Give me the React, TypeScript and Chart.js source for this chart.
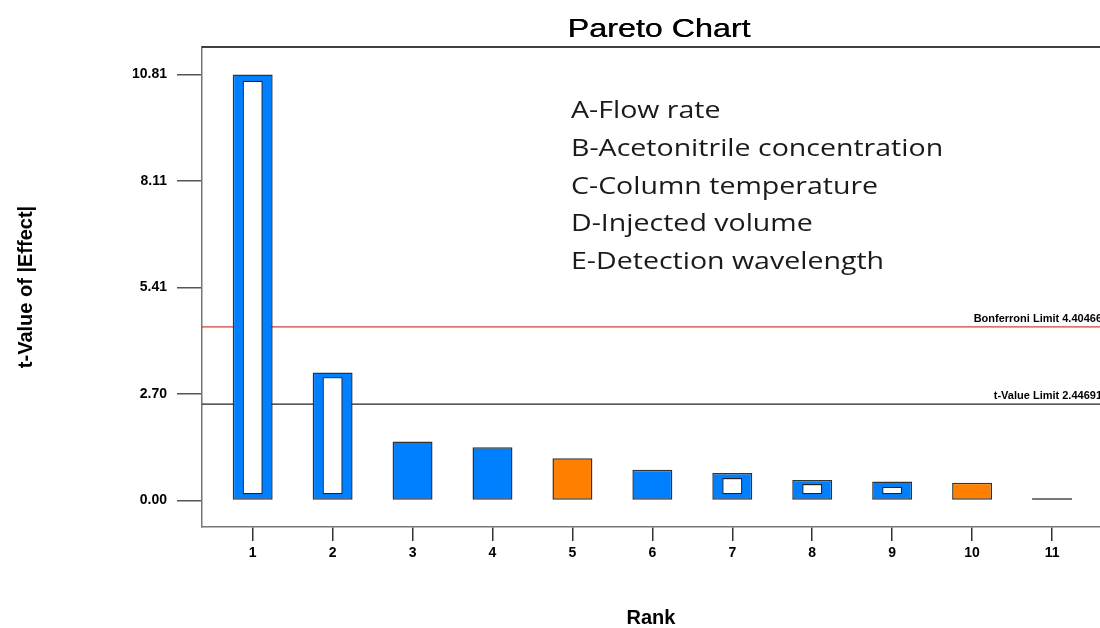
import React, { useEffect, useRef } from 'react';
import { Chart, registerables } from 'chart.js';

Chart.register(...registerables);

// ---- data ----
const ranks = [1, 2, 3, 4, 5, 6, 7, 8, 9, 10, 11];
const tValues = [10.81, 3.25, 1.5, 1.35, 1.07, 0.78, 0.7, 0.52, 0.48, 0.45, 0.06];
const positiveEffect = [false, false, false, false, true, false, false, false, false, true, true];
// hollow (white) inner marks, ranks that have one
const innerRanks = [1, 2, 7, 8, 9];
const innerLow = [0.16, 0.16, 0.16, 0.16, 0.16];
const innerHigh = [10.65, 3.13, 0.57, 0.42, 0.35];
const yTicks = [0, 2.7, 5.41, 8.11, 10.81];
const xRange = [0.366, 11.6];
const yRange = [-0.672, 11.507];
const bonferroniLimit = 4.40466;
const tValueLimit = 2.44691;
const limitNames = ['Bonferroni Limit', 't-Value Limit'];
const limitValues = [bonferroniLimit, tValueLimit];
const factorLabels = [
  'A-Flow rate',
  'B-Acetonitrile concentration',
  'C-Column temperature',
  'D-Injected volume',
  'E-Detection wavelength',
];
const chartTitle = 'Pareto Chart';
const xTitle = 'Rank';
const yTitle = 't-Value of |Effect|';

const BLUE = '#0080ff';
const ORANGE = '#ff8000';
const SANS = '"Liberation Sans", Arial, sans-serif';

const decorPlugin = {
  id: 'decor',
  afterDatasetsDraw(chart: any) {
    const ctx = chart.ctx as CanvasRenderingContext2D;
    const area = chart.chartArea;
    ctx.save();
    ctx.font = `bold 11px ${SANS}`;
    ctx.fillStyle = '#000';
    ctx.textAlign = 'right';
    ctx.textBaseline = 'alphabetic';
    chart.data.datasets.forEach((ds: any, i: number) => {
      if (ds.type !== 'line') return;
      const meta = chart.getDatasetMeta(i);
      const pt = meta.data[meta.data.length - 1];
      ctx.fillText(`${ds.label} ${ds.limitValue}`, area.right + 2, pt.y - 5);
    });
    ctx.restore();
  },
  afterDraw(chart: any) {
    const ctx = chart.ctx as CanvasRenderingContext2D;
    const area = chart.chartArea;
    ctx.save();
    // top frame line
    ctx.strokeStyle = '#000';
    ctx.lineWidth = 1.5;
    ctx.beginPath();
    ctx.moveTo(area.left, area.top);
    ctx.lineTo(area.right, area.top);
    ctx.stroke();

    // title
    ctx.fillStyle = '#000';
    ctx.font = `26px ${SANS}`;
    ctx.textAlign = 'center';
    ctx.textBaseline = 'alphabetic';
    ctx.save();
    ctx.translate((area.left + area.right) / 2 + 8, 37);
    ctx.scale(1.24, 1);
    ctx.fillText(chartTitle, 0, 0);
    ctx.fillText(chartTitle, 0.35, 0);
    ctx.restore();

    // factor list
    ctx.fillStyle = '#1a1a1a';
    ctx.font = `23px "Open Sans", "Noto Sans", sans-serif`;
    ctx.textAlign = 'left';
    factorLabels.forEach((t, i) => {
      ctx.save();
      ctx.translate(571, 118 + i * 37.75);
      ctx.scale(1.24, 1);
      ctx.fillText(t, 0, 0);
      ctx.restore();
    });
    ctx.restore();
  },
};

export default function App() {
  const ref = useRef<HTMLCanvasElement | null>(null);

  useEffect(() => {
    document.body.style.margin = '0';
    const canvas = ref.current;
    if (!canvas) return;

    const tickFont = { family: SANS, size: 14, weight: 'bold' as const };
    const titleFont = { family: SANS, size: 20, weight: 'bold' as const, lineHeight: 1 };

    const chart = new Chart(canvas, {
      type: 'bar',
      data: {
        datasets: [
          {
            label: 'inner',
            data: innerRanks.map((r, i) => ({ x: r, y: [innerLow[i], innerHigh[i]] })) as any,
            backgroundColor: '#ffffff',
            borderColor: '#222',
            borderWidth: 1.2,
            borderSkipped: false,
            barPercentage: 0.25,
            categoryPercentage: 1,
            grouped: false,
            order: 0,
          } as any,
          {
            label: yTitle,
            data: ranks.map((r, i) => ({ x: r, y: tValues[i] })) as any,
            backgroundColor: tValues.map((v, i) =>
              v < 0.1 ? '#111111' : positiveEffect[i] ? ORANGE : BLUE
            ),
            borderColor: tValues.map((v) => (v < 0.1 ? '#111111' : '#333333')),
            borderWidth: 1.5,
            borderSkipped: false,
            barPercentage: 0.5,
            categoryPercentage: 1,
            grouped: false,
            order: 1,
          } as any,
          ...limitNames.map((name, i) => ({
            type: 'line',
            label: name,
            limitValue: limitValues[i],
            data: [
              { x: xRange[0], y: limitValues[i] },
              { x: xRange[1], y: limitValues[i] },
            ],
            borderColor: i === 0 ? '#c41010' : '#222',
            borderWidth: i === 0 ? 1 : 1.3,
            pointRadius: 0,
            order: 2,
          })) as any,
        ],
      },
      options: {
        responsive: false,
        animation: false,
        layout: { padding: { top: 47, right: 0, bottom: 0, left: 0 } },
        plugins: {
          legend: { display: false },
          tooltip: { enabled: false },
          title: { display: false },
        },
        scales: {
          x: {
            type: 'linear',
            min: xRange[0],
            max: xRange[1],
            offset: false,
            afterBuildTicks: (s: any) => {
              s.ticks = ranks.map((v) => ({ value: v }));
            },
            afterFit: (s: any) => {
              s.height = 101;
            },
            ticks: {
              font: tickFont,
              color: '#000',
              padding: 4,
              maxRotation: 0,
              autoSkip: false,
              callback: (v: any) => String(v),
            },
            grid: {
              offset: false,
              drawOnChartArea: false,
              drawTicks: true,
              tickLength: 14,
              color: '#333',
              lineWidth: 1.5,
            },
            border: { color: '#777', width: 1.5 },
            title: {
              display: true,
              text: xTitle,
              font: titleFont,
              color: '#000',
              padding: { top: 0, bottom: 0 },
            },
          },
          y: {
            type: 'linear',
            min: yRange[0],
            max: yRange[1],
            afterBuildTicks: (s: any) => {
              s.ticks = yTicks.map((v) => ({ value: v }));
            },
            afterFit: (s: any) => {
              s.width = 202;
            },
            ticks: {
              font: tickFont,
              color: '#000',
              padding: 10,
              callback: (v: any) => Number(v).toFixed(2),
            },
            grid: {
              drawOnChartArea: false,
              drawTicks: true,
              tickLength: 25,
              color: '#555',
              lineWidth: 1.5,
            },
            border: { color: '#777', width: 1.5 },
            title: {
              display: true,
              text: yTitle,
              font: titleFont,
              color: '#000',
              padding: { top: 16, bottom: 0 },
            },
          },
        },
      } as any,
      plugins: [decorPlugin],
    });

    return () => chart.destroy();
  }, []);

  return (
    <canvas
      ref={ref}
      width={1100}
      height={628}
      style={{ display: 'block', width: 1100, height: 628 }}
    />
  );
}
